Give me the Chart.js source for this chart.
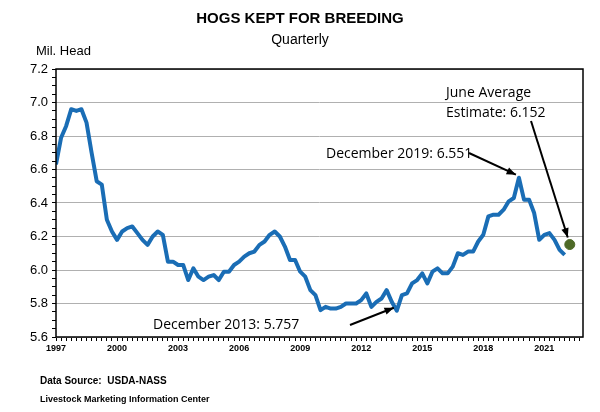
<!DOCTYPE html>
<html><head><meta charset="utf-8">
<script src="https://cdn.jsdelivr.net/npm/chart.js@4/dist/chart.umd.min.js"></script>
<style>html,body{margin:0;padding:0;background:#fff}#w{width:600px;height:412px}</style>
</head><body><div id="w"><canvas id="c"></canvas></div>
<script>
const startYear = 1997;
const values = [6.63,6.79,6.86,6.96,6.95,6.96,6.88,6.70,6.53,6.51,6.30,6.23,6.18,6.23,6.25,6.26,6.22,6.18,6.15,6.20,6.23,6.21,6.05,6.05,6.03,6.03,5.94,6.01,5.96,5.94,5.96,5.97,5.94,5.99,5.99,6.03,6.05,6.08,6.10,6.11,6.15,6.17,6.21,6.23,6.20,6.14,6.06,6.06,5.99,5.96,5.88,5.85,5.76,5.78,5.77,5.77,5.78,5.80,5.80,5.80,5.82,5.86,5.78,5.81,5.83,5.88,5.81,5.757,5.85,5.86,5.92,5.94,5.98,5.92,5.99,6.01,5.98,5.98,6.02,6.10,6.09,6.11,6.11,6.17,6.21,6.32,6.33,6.33,6.36,6.41,6.43,6.551,6.42,6.42,6.34,6.18,6.21,6.22,6.18,6.12,6.09];
const estimate = 6.152;
const estimateIndex = values.length;
const yTicksMajor = [5.6,5.8,6.0,6.2,6.4,6.6,6.8,7.0,7.2];

const lineData = values.map((v,i)=>({x:i,y:v}));
const estData = [{x:estimateIndex,y:estimate}];
const low2013 = 67, peak2019 = 91;

function isMajor(v){return Math.abs(v*5-Math.round(v*5))<1e-6;}

const annot = {
  id:'annot',
  afterDraw(ch){
    const c=ch.ctx, xs=ch.scales.x, ys=ch.scales.y, a=ch.chartArea;
    c.save();
    c.strokeStyle='#000';c.lineWidth=1.5;
    c.strokeRect(a.left,a.top,a.right-a.left,a.bottom-a.top);
    c.fillStyle='#000';c.textAlign='center';
    c.font='bold 15px "Liberation Sans", Arial';
    c.fillText('HOGS KEPT FOR BREEDING',300,23);
    c.font='14px "Liberation Sans", Arial';
    c.fillText('Quarterly',300,44);
    c.textAlign='left';
    c.font='13px "Liberation Sans", Arial';
    c.fillText('Mil. Head',36,55);
    c.font='bold 10px "Liberation Sans", Arial';
    c.fillText('Data Source:  USDA-NASS',40,384);
    c.font='bold 9px "Liberation Sans", Arial';
    c.fillText('Livestock Marketing Information Center',40,402);
    c.font='14px "Open Sans", "Liberation Sans", Arial';
    c.fillText('December 2013: 5.757',153,329);
    c.fillText('December 2019: 6.551',326,158);
    c.fillText('June Average',446,97);
    c.fillText('Estimate: 6.152',446,117);
    function arrow(x1,y1,x2,y2){
      c.beginPath();c.moveTo(x1,y1);c.lineTo(x2,y2);c.lineWidth=2;c.stroke();
      const ang=Math.atan2(y2-y1,x2-x1),L=10,W=0.38;
      c.beginPath();c.moveTo(x2,y2);
      c.lineTo(x2-L*Math.cos(ang-W),y2-L*Math.sin(ang-W));
      c.lineTo(x2-L*Math.cos(ang+W),y2-L*Math.sin(ang+W));
      c.closePath();c.fill();
    }
    arrow(350,325,xs.getPixelForValue(low2013)-3,ys.getPixelForValue(values[low2013])-3);
    arrow(469,153,xs.getPixelForValue(peak2019)-3,ys.getPixelForValue(values[peak2019])-3);
    arrow(531,121,xs.getPixelForValue(estimateIndex)-2,ys.getPixelForValue(estimate)-7);
    c.restore();
  }
};

new Chart(document.getElementById('c'),{
  type:'scatter',
  data:{datasets:[
    {data:lineData,showLine:true,borderColor:'#1a6db5',borderWidth:4,pointRadius:0,tension:0,borderJoinStyle:'round'},
    {data:estData,pointRadius:5,pointBackgroundColor:'#4e6a27',pointBorderColor:'#4e6a27'}
  ]},
  options:{
    responsive:true,maintainAspectRatio:false,animation:false,
    layout:{padding:{top:69,right:17,bottom:55,left:0}},
    plugins:{legend:{display:false},tooltip:{enabled:false}},
    scales:{
      x:{type:'linear',min:0,max:103.6,
        afterBuildTicks(s){const t=[];for(let i=0;i<=103;i++)t.push({value:i});s.ticks=t;},
        afterFit(s){s.height=20;},
        grid:{drawOnChartArea:false,tickLength:4,color:'#000'},
        border:{display:false},
        ticks:{autoSkip:false,maxRotation:0,padding:2,color:'#000',font:{size:9,weight:'bold',family:'"Liberation Sans", Arial'},
          callback(v){return v%12===0?String(startYear+v/4):'';}}},
      y:{min:5.6,max:7.2,
        afterBuildTicks(s){const t=[];for(let i=0;i<=32;i++)t.push({value:+(5.6+i*0.05).toFixed(2)});s.ticks=t;},
        afterFit(s){s.width=56;},
        border:{display:false},
        grid:{color(ctx){return ctx.tick&&isMajor(ctx.tick.value)?'#b0b0b0':'rgba(0,0,0,0)';},
          tickColor:'#000',tickLength:4,lineWidth:1},
        ticks:{autoSkip:false,padding:4,color:'#000',font:{size:13,family:'"Liberation Sans", Arial'},
          callback(v){return yTicksMajor.some(m=>Math.abs(m-v)<1e-6)?v.toFixed(1):'';}}}
    }
  },
  plugins:[annot]
});
</script></body></html>
